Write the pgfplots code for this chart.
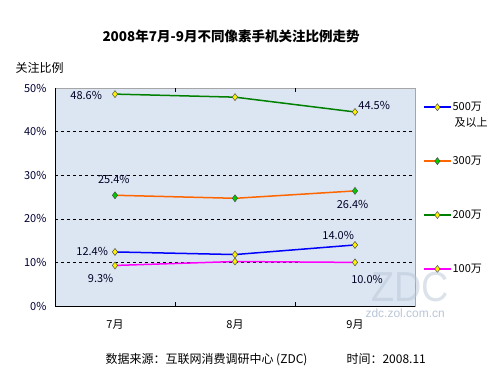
\documentclass[border=0pt]{standalone}
\usepackage{fontspec}
\setmainfont{Noto Sans CJK SC}
\newfontfamily\lat{Liberation Sans}
\usepackage{pgfplots}
\pgfplotsset{compat=1.18}
\definecolor{bgc}{HTML}{DCE6F2}
\definecolor{oran}{HTML}{FF6600}
\definecolor{grn}{HTML}{008000}
\definecolor{mag}{HTML}{FF00FF}
\definecolor{wm}{HTML}{B9C6D6}
\begin{document}
\begin{tikzpicture}[x=1pt,y=1pt]
\path[use as bounding box] (0,0) rectangle (500,375);
\node[font=\bfseries\fontsize{13.5}{15}\selectfont] at (231,339) {2008年7月-9月不同像素手机关注比例走势};
\node[font=\fontsize{12}{14}\selectfont, anchor=west] at (12,307) {关注比例};
\node[font=\fontsize{12}{14}\lat, text=wm, anchor=west] at (362,62) {zdc.zol.com.cn};
\begin{axis}[at={(55pt,69pt)}, anchor=south west, scale only axis,
  width=360pt, height=218pt,
  xmin=-0.5, xmax=2.5, ymin=0, ymax=50,
  axis background/.style={fill=bgc},
  axis line style={gray!70},
  xtick={0,1,2}, xticklabels={7月,8月,9月},
  extra x ticks={0.5,1.5}, extra x tick labels={},
  extra x tick style={major tick length=4pt, tick style={black}},
  major tick length=0pt,
  xticklabel style={font=\fontsize{11}{13}\selectfont, yshift=-10pt},
  ytick={0,10,20,30,40,50},
  yticklabels={0\%,10\%,20\%,30\%,40\%,50\%},
  yticklabel style={font=\fontsize{11}{13}\selectfont, text=black!80!blue, xshift=-5pt},
  ymajorgrids, grid style={black, dashed, line width=0.6pt},
  /pgf/number format/assume math mode=true,
  legend style={draw=none, fill=none, at={(1.022,0.541)}, anchor=west,
    font=\fontsize{11}{13}\selectfont, row sep=40pt, inner sep=0pt,
    nodes={inner xsep=1pt}},
  legend cell align=left,
  legend image code/.code={\draw[mark repeat=2,mark phase=2] plot coordinates {(0pt,0pt) (13.5pt,0pt) (27pt,0pt)};},
  every axis plot/.append style={line width=1.5pt, mark=diamond*, mark size=3.5pt},
]
\addplot[blue, mark options={solid, fill=yellow, draw=black!70, line width=0.5pt}] coordinates {(0,12.4) (1,11.8) (2,14.0)};
\addlegendentry{500万}
\addplot[oran, mark options={solid, fill=green!80!black, draw=black!70, line width=0.5pt}] coordinates {(0,25.4) (1,24.7) (2,26.4)};
\addlegendentry{300万}
\addplot[grn, mark options={solid, fill=yellow, draw=black!70, line width=0.5pt}] coordinates {(0,48.6) (1,47.9) (2,44.5)};
\addlegendentry{200万}
\addplot[mag, mark options={solid, fill=yellow, draw=black!70, line width=0.5pt}] coordinates {(0,9.3) (1,10.2) (2,10.0)};
\addlegendentry{100万}
\draw[black, line width=0.8pt] (rel axis cs:0,1) -- (rel axis cs:0,0) -- (rel axis cs:1,0);
\tikzset{lab/.style={font=\fontsize{11}{13}\selectfont, text=black!85!blue}}
\node[lab] at (axis cs:-0.24,48.4) {48.6\%};
\node[lab] at (axis cs:2.16,45.9) {44.5\%};
\node[lab] at (axis cs:-0.01,29.1) {25.4\%};
\node[lab] at (axis cs:1.98,23.2) {26.4\%};
\node[lab] at (axis cs:-0.19,12.4) {12.4\%};
\node[lab] at (axis cs:1.86,16.1) {14.0\%};
\node[lab] at (axis cs:-0.12,6.4) {9.3\%};
\node[lab] at (axis cs:2.10,6.2) {10.0\%};
\end{axis}
\node[font=\fontsize{42}{42}\lat, text=wm, opacity=0.5, xscale=0.9, inner sep=0pt] at (410,88) {ZDC};
\node[font=\fontsize{11}{13}\selectfont, anchor=west, inner xsep=0pt] at (454.5,253) {及以上};
\node[font=\fontsize{12}{14}\selectfont, anchor=base west] at (102,12) {数据来源：互联网消费调研中心 (ZDC)};
\node[font=\fontsize{12}{14}\selectfont, anchor=base west] at (343,12) {时间：2008.11};
\end{tikzpicture}
\end{document}
